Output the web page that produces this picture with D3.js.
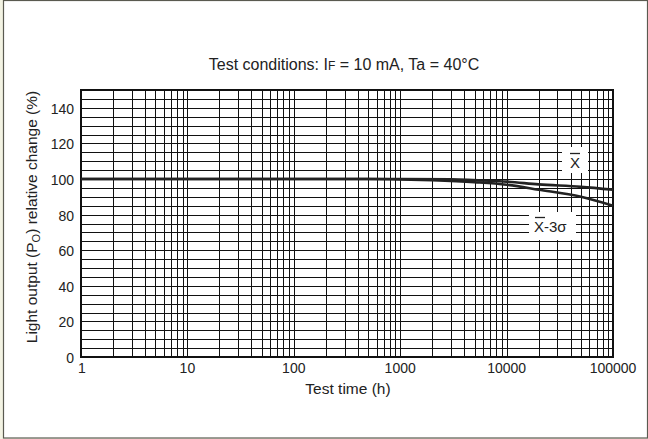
<!DOCTYPE html>
<html><head><meta charset="utf-8">
<script src="https://cdn.jsdelivr.net/npm/d3@7"></script>
<style>
html,body{margin:0;padding:0;background:#f3f3e3;}
svg{display:block;font-family:"Liberation Sans",Arial,sans-serif;}
</style></head>
<body>
<svg id="c" width="648" height="439"></svg>
<script>
// Data
const xTickValues = [1, 10, 100, 1000, 10000, 100000];
const xTickLabels = ["1", "10", "100", "1000", "10000", "100000"];
const yTickValues = [0, 20, 40, 60, 80, 100, 120, 140];
const meanTime  = [1, 10, 100, 1000, 3000, 7000, 10000, 20000, 50000, 100000];
const meanValue = [100, 100, 100, 100, 99.8, 99.0, 98.5, 97.0, 95.6, 94.0];
const m3sTime   = [1, 10, 100, 500, 1000, 2000, 5000, 10000, 20000, 50000, 100000];
const m3sValue  = [100, 100, 100, 100, 99.8, 99.3, 98.2, 96.8, 94.0, 90.0, 85.0];

const svg = d3.select("#c");
// page frame
svg.append("rect").attr("x",3.5).attr("y",0.5).attr("width",644).attr("height",437.5)
  .attr("fill","#fff").attr("stroke","#5a5a50").attr("stroke-width",1.2);

const L=81, R=613, T=90, B=357;
const x = d3.scaleLog().domain([1,100000]).range([L,R]);
const y = d3.scaleLinear().domain([0,150]).range([B,T]);

const g = svg.append("g");
// vertical grid
const vLines = [];
for (let d=1; d<100000; d*=10) for (let k=1;k<=9;k++) vLines.push(d*k);
vLines.push(100000);
g.selectAll("line.v").data(vLines).join("line")
  .attr("x1",d=>Math.round(x(d))+0.5).attr("x2",d=>Math.round(x(d))+0.5)
  .attr("y1",T).attr("y2",B).attr("stroke","#111").attr("stroke-width",1);
// horizontal grid
g.selectAll("line.h").data(d3.range(0,151,5)).join("line")
  .attr("y1",d=>Math.round(y(d))+0.5).attr("y2",d=>Math.round(y(d))+0.5)
  .attr("x1",L).attr("x2",R).attr("stroke","#111").attr("stroke-width",1);
// frame
g.append("rect").attr("x",L).attr("y",T).attr("width",R-L).attr("height",B-T)
  .attr("fill","none").attr("stroke","#111").attr("stroke-width",2);

// curves
const line = d3.line().x(d=>x(d[0])).y(d=>y(d[1])).curve(d3.curveMonotoneX);
g.append("path").datum(d3.zip(m3sTime,m3sValue)).attr("d",line)
  .attr("fill","none").attr("stroke","#222").attr("stroke-width",2.6);
g.append("path").datum(d3.zip(meanTime,meanValue)).attr("d",line)
  .attr("fill","none").attr("stroke","#222").attr("stroke-width",2.6);

// labels with white boxes
svg.append("rect").attr("x",562).attr("y",147).attr("width",26).attr("height",26).attr("fill","#fff");
svg.append("text").attr("x",575).attr("y",168).attr("text-anchor","middle")
  .attr("font-size",15).attr("fill","#222").text("X");
svg.append("line").attr("x1",570).attr("x2",580).attr("y1",153.5).attr("y2",153.5).attr("stroke","#222").attr("stroke-width",1.3);
svg.append("rect").attr("x",529).attr("y",212).attr("width",47).attr("height",28).attr("fill","#fff");
svg.append("text").attr("x",534).attr("y",232)
  .attr("font-size",15).attr("fill","#222").text("X-3σ");
svg.append("line").attr("x1",535).attr("x2",545).attr("y1",217.5).attr("y2",217.5).attr("stroke","#222").attr("stroke-width",1.3);

// axes tick labels
svg.selectAll("text.yt").data(yTickValues).join("text")
  .attr("x",74).attr("y",d=>y(d)+1).attr("dy","0.36em")
  .attr("text-anchor","end").attr("font-size",14).attr("fill","#222").text(d=>d);
svg.selectAll("text.xt").data(xTickValues).join("text")
  .attr("x",(d,i)=>i===0?x(d)+1:x(d)).attr("y",373)
  .attr("text-anchor","middle").attr("font-size",14).attr("fill","#222")
  .text((d,i)=>xTickLabels[i]);

// title
const tt = svg.append("text").attr("x",344).attr("y",70).attr("text-anchor","middle")
  .attr("font-size",16).attr("fill","#222");
tt.append("tspan").text("Test conditions: I");
tt.append("tspan").attr("font-size",12).text("F");
tt.append("tspan").text(" = 10 mA, Ta = 40°C");

// axis titles
svg.append("text").attr("x",348).attr("y",394).attr("text-anchor","middle")
  .attr("font-size",15.5).attr("fill","#222").text("Test time (h)");
const yl = svg.append("text").attr("transform","translate(37,217) rotate(-90)")
  .attr("text-anchor","middle").attr("font-size",15.5).attr("fill","#222");
yl.append("tspan").text("Light output (P");
yl.append("tspan").attr("font-size",11).attr("dy",3).text("O");
yl.append("tspan").attr("dy",-3).text(") relative change (%)");
</script>
</body></html>
